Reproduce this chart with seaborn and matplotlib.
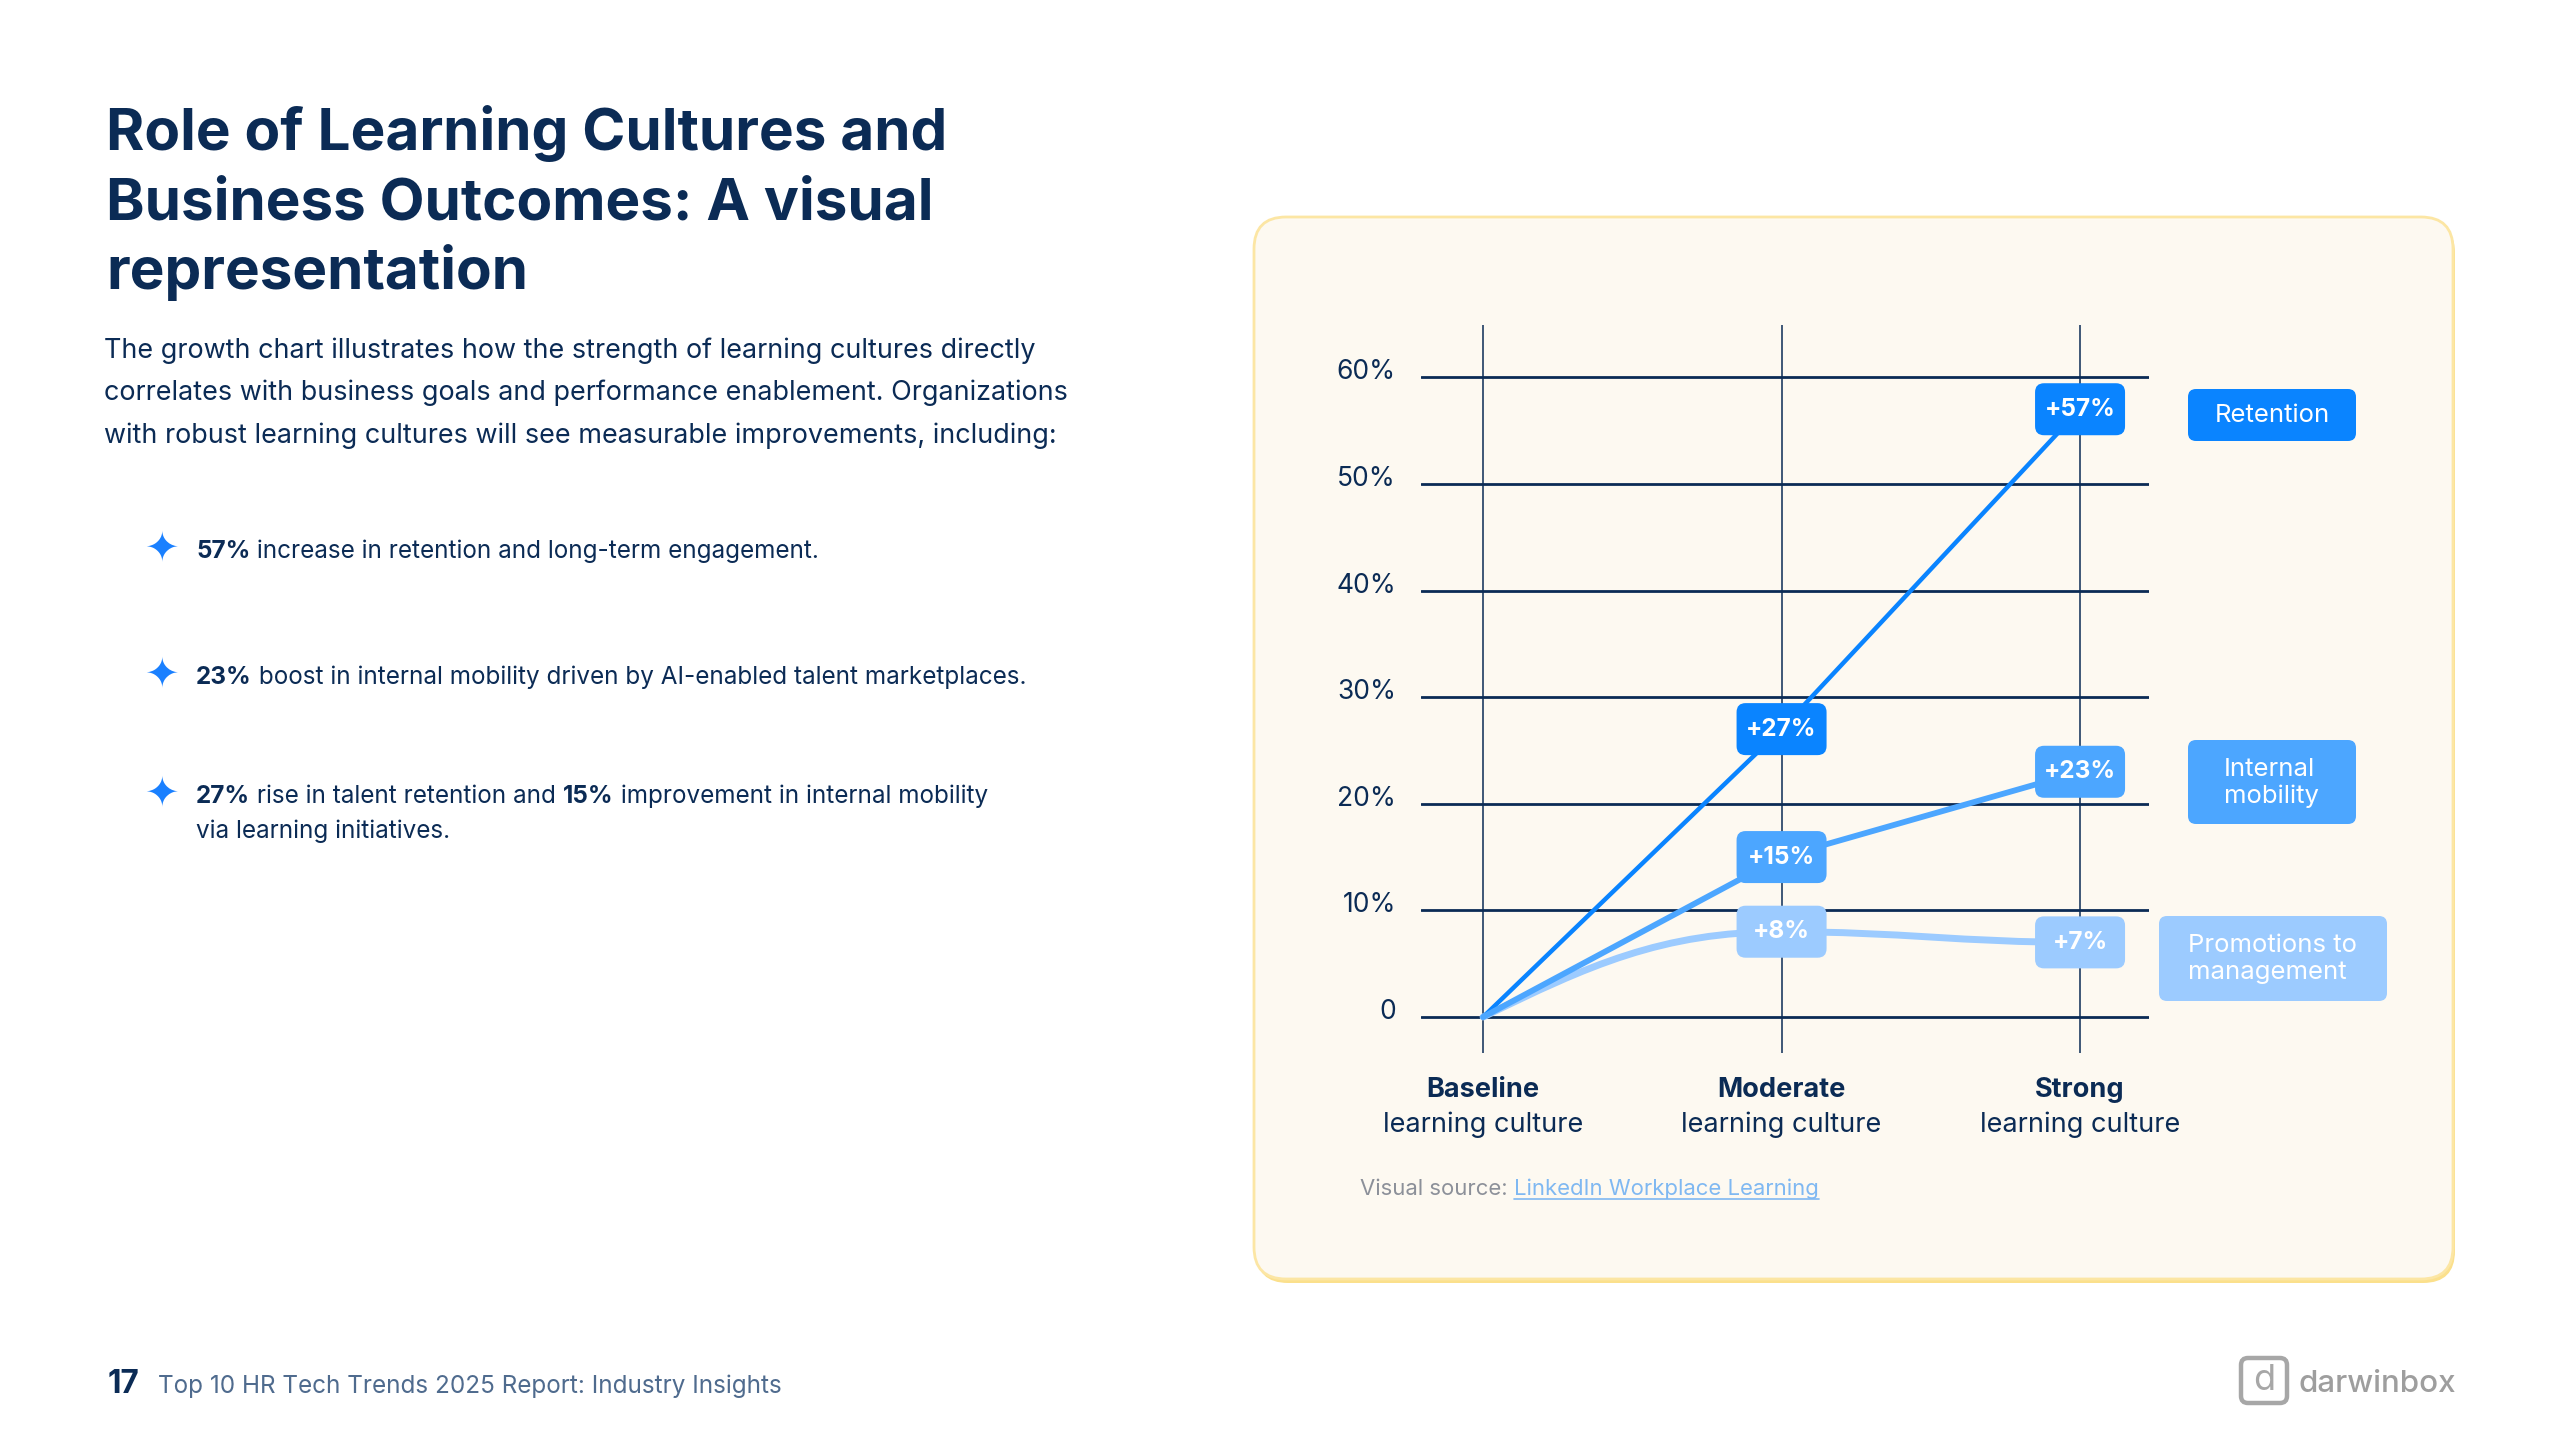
import matplotlib
matplotlib.use("Agg")
import matplotlib.pyplot as plt
import seaborn as sns
import pandas as pd
from matplotlib.patches import FancyBboxPatch, PathPatch
from matplotlib.path import Path
from matplotlib.lines import Line2D
from matplotlib.transforms import ScaledTranslation

# ---------------- data ----------------
stages = ["Baseline", "Moderate", "Strong"]
stage_subtitle = "learning culture"
series_names = ["Retention", "Internal mobility", "Promotions to management"]
retention = [0, 27, 57]
internal_mobility = [0, 15, 23]
promotions = [0, 8, 7]
y_ticks = [0, 10, 20, 30, 40, 50, 60]
y_tick_labels = ["0", "10%", "20%", "30%", "40%", "50%", "60%"]

title_lines = ["Role of Learning Cultures and", "Business Outcomes: A visual", "representation"]
intro_lines = [
    "The growth chart illustrates how the strength of learning cultures directly",
    "correlates with business goals and performance enablement. Organizations",
    "with robust learning cultures will see measurable improvements, including:",
]
bullet_runs = [
    [[("57%", True), (" increase in retention and long-term engagement.", False)]],
    [[("23%", True), (" boost in internal mobility driven by AI-enabled talent marketplaces.", False)]],
    [[("27%", True), (" rise in talent retention and ", False), ("15%", True),
      (" improvement in internal mobility", False)],
     [("via learning initiatives.", False)]],
]
legend_lines = [["Retention"], ["Internal", "mobility"], ["Promotions to", "management"]]
source_prefix = "Visual source: "
source_link = "LinkedIn Workplace Learning"
page_number = "17"
footer_text = "Top 10 HR Tech Trends 2025 Report: Industry Insights"
brand = "darwinbox"

# ---------------- style ----------------
W, H = 2560, 1440
NAVY = "#0B2B55"
C_RET, C_MOB, C_PRO = "#0A84FF", "#4CA6FF", "#9CCBFF"
sns.set_theme(style="white")
plt.rcParams["font.family"] = ["Inter", "DejaVu Sans"]

fig = plt.figure(figsize=(25.6, 14.4), dpi=100, facecolor="white")
renderer = fig.canvas.get_renderer()


def fx(px):
    return px / W


def fy(py):
    return 1 - py / H


def runs_width(runs, size):
    w = 0
    for s, bold in runs:
        t = fig.text(0, 0, s, fontsize=size, fontweight="bold" if bold else "normal")
        w += t.get_window_extent(renderer).width
        t.remove()
    return w


def fit_size(runs, target, size0=20):
    return size0 * target / runs_width(runs, size0)


def draw_runs(x_px, y_px, runs, size, color, va="baseline"):
    x = x_px
    for s, bold in runs:
        t = fig.text(fx(x), fy(y_px), s, fontsize=size, color=color, va=va, ha="left",
                     fontweight="bold" if bold else "normal")
        x += t.get_window_extent(renderer).width
    return x


# ---------------- left text ----------------
ts = fit_size([(title_lines[0], True)], 844)
for line, yb in zip(title_lines, [150, 220, 289]):
    fig.text(fx(106), fy(yb), line, fontsize=ts, fontweight="bold", color=NAVY, va="baseline")

ps = fit_size([(intro_lines[1], False)], 962)
for line, yb in zip(intro_lines, [358, 400, 443]):
    fig.text(fx(104), fy(yb), line, fontsize=ps, color=NAVY, va="baseline")

bs = fit_size(bullet_runs[1][0], 829)
for runs_block, yb, ys in zip(bullet_runs, [558, 684, 803], [550, 676, 795]):
    fig.text(fx(162), fy(ys), "\u2726", fontsize=bs * 1.7, color="#1A80FF", ha="center", va="center",
             family="DejaVu Sans")
    for k, runs in enumerate(runs_block):
        draw_runs(196, yb + k * 35, runs, bs, NAVY)

# footer
fs = fit_size([(footer_text, False)], 624)
fig.text(fx(108), fy(1393), page_number, fontsize=fs * 1.3, fontweight="bold", color=NAVY, va="baseline")
fig.text(fx(158), fy(1393), footer_text, fontsize=fs, color="#4F6B8E", va="baseline")

# logo
fig.add_artist(FancyBboxPatch((22.41, 0.37), 0.46, 0.45, boxstyle="round,pad=0,rounding_size=0.07",
                              transform=fig.dpi_scale_trans, fc="none", ec="#A7A7A7", lw=3.2))
fig.text(fx(2264), fy(1381), "d", fontsize=26, color="#A7A7A7", ha="center", va="center")
fig.text(fx(2298), fy(1392), brand, fontsize=fit_size([(brand, False)], 155), color="#9E9E9E",
         va="baseline", fontweight="medium")

# ---------------- card ----------------
fig.add_artist(FancyBboxPatch((12.56, 1.57), 11.99, 10.62, boxstyle="round,pad=0,rounding_size=0.32",
                              transform=fig.dpi_scale_trans, fc="#FBE08C", ec="none", zorder=-3))
fig.add_artist(FancyBboxPatch((12.54, 1.61), 11.99, 10.62, boxstyle="round,pad=0,rounding_size=0.32",
                              transform=fig.dpi_scale_trans, fc="#FDF9F1", ec="#FCE6A4", lw=2.0, zorder=-2))

# ---------------- chart ----------------
ax = fig.add_axes([fx(1421), fy(1053), (2149 - 1421) / W, (1053 - 325) / H])
ax.set_facecolor("none")
for sp in ax.spines.values():
    sp.set_visible(False)

positions = list(range(len(stages)))
df = pd.DataFrame({
    "pos": positions * 2,
    "value": retention + internal_mobility,
    "series": [series_names[0]] * 3 + [series_names[1]] * 3,
})
sns.lineplot(data=df, x="pos", y="value", hue="series", size="series",
             palette={series_names[0]: C_RET, series_names[1]: C_MOB},
             sizes={series_names[0]: 3.2, series_names[1]: 4.2},
             legend=False, ax=ax, solid_capstyle="round", zorder=3)

# promotions: smooth curve through the data points
x0, x1, x2 = positions
p0, p1, p2 = promotions
verts = [(x0, p0), (x0 + 0.35, p0 + 0.6 * (p1 - p0)), (x1 - 0.4, p1), (x1, p1),
         (x1 + 0.4, p1), (x2 - 0.4, p2), (x2, p2)]
codes = [Path.MOVETO] + [Path.CURVE4] * 6
ax.add_patch(PathPatch(Path(verts, codes), fc="none", ec=C_PRO, lw=5.0, capstyle="round", zorder=2.9))

ax.set_xlim(-0.208, 2.231)
ax.set_ylim(-3.375, 64.9)
ax.set_axisbelow(True)
ax.grid(axis="y", color=NAVY, lw=2.0)
ax.grid(axis="x", color=NAVY, lw=1.1)
ax.set_yticks(y_ticks, y_tick_labels)
ax.set_xticks(positions, stages)
ax.tick_params(axis="y", length=0, pad=18, labelsize=19, labelcolor=NAVY)
ax.tick_params(axis="x", length=0, pad=17, labelsize=19.5, labelcolor=NAVY)
lift = ScaledTranslation(0, 0.08, fig.dpi_scale_trans)
for lab in ax.get_yticklabels():
    lab.set_transform(lab.get_transform() + lift)
for lab in ax.get_xticklabels():
    lab.set_fontweight("bold")
ax.set_xlabel("")
ax.set_ylabel("")
for p in positions:
    ax.annotate(stage_subtitle, xy=(p, 0), xycoords=("data", "axes fraction"), xytext=(0, -51.5),
                textcoords="offset points", ha="center", va="center", fontsize=19.5, color=NAVY,
                annotation_clip=False)

# value labels: fixed-size rounded boxes centred on each data point
BW, BH = 0.90, 0.52
for vals, col in [(retention, C_RET), (internal_mobility, C_MOB), (promotions, C_PRO)]:
    for p, v in zip(positions[1:], vals[1:]):
        tr = fig.dpi_scale_trans + ScaledTranslation(p, v, ax.transData)
        ax.add_patch(FancyBboxPatch((-BW / 2, -BH / 2), BW, BH, boxstyle="round,pad=0,rounding_size=0.09",
                                    transform=tr, fc=col, ec="none", zorder=5, clip_on=False))
        ax.text(p, v, f"+{v}%", ha="center", va="center", fontsize=17.5, fontweight="bold", color="white",
                zorder=6)
ax.set_xlim(-0.208, 2.231)
ax.set_ylim(-3.375, 64.9)

# legend boxes (figure pixels)
leg_boxes = [(2188, 389, 168, 52), (2188, 740, 168, 84), (2159, 916, 228, 85)]
leg_text = [("center", 2272, [415]), ("left", 2224, [769, 796]), ("left", 2188, [945, 973])]
for (bx, by, bw, bh), col, lines, (ha, tx, tys) in zip(leg_boxes, [C_RET, C_MOB, C_PRO], legend_lines, leg_text):
    fig.add_artist(FancyBboxPatch((bx / 100, (H - by - bh) / 100), bw / 100, bh / 100,
                                  boxstyle="round,pad=0,rounding_size=0.08", transform=fig.dpi_scale_trans,
                                  fc=col, ec="none", zorder=3))
    for line, ty in zip(lines, tys):
        fig.text(fx(tx), fy(ty), line, fontsize=18.5, color="white", ha=ha, va="center", zorder=4)

# source
ss = 15.9
t1 = fig.text(fx(1360), fy(1195), source_prefix, fontsize=ss, color="#8C9099", va="baseline")
lx = 1360 + t1.get_window_extent(renderer).width
t2 = fig.text(fx(lx), fy(1195), source_link, fontsize=ss, color="#7FB8F2", va="baseline")
lw_ = t2.get_window_extent(renderer).width
fig.add_artist(Line2D([fx(lx), fx(lx + lw_)], [fy(1199), fy(1199)], transform=fig.transFigure,
                      color="#7FB8F2", lw=1.2))

fig.savefig("out.png", dpi=100, facecolor="white")
